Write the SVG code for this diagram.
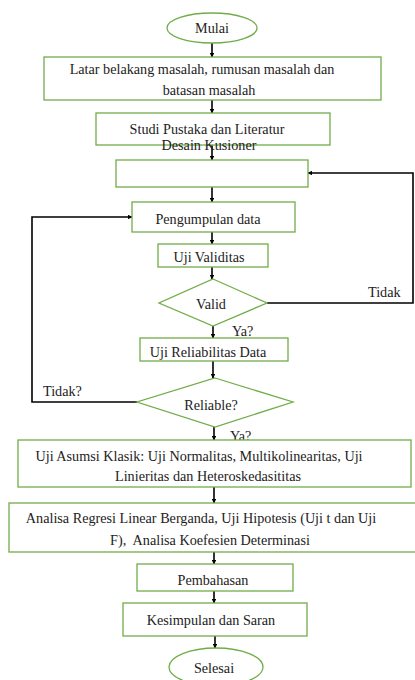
<svg xmlns="http://www.w3.org/2000/svg" width="415" height="680" viewBox="0 0 415 680">
<style>
.n{fill:#fff;stroke:#70ad47;stroke-width:1.3}
.t{font-family:"Liberation Serif","Times New Roman",serif;font-size:14.2px;fill:#222;text-anchor:middle}
.l{font-family:"Liberation Serif","Times New Roman",serif;font-size:14.2px;fill:#222}
.c{fill:none;stroke:#000;stroke-width:1.6}
</style>
<defs>
<marker id="a" viewBox="0 0 10 10" refX="9" refY="5" markerWidth="4.5" markerHeight="4.5" orient="auto" markerUnits="userSpaceOnUse">
<path d="M0,0L10,5L0,10z" fill="#000"/>
</marker>
</defs>
<rect width="415" height="680" fill="#fff"/>
<g id="connectors">
<path class="c" marker-end="url(#a)" d="M212,43V57"/>
<path class="c" marker-end="url(#a)" d="M212,100V113"/>
<path class="c" marker-end="url(#a)" d="M212,145V160"/>
<path class="c" marker-end="url(#a)" d="M212,187V202"/>
<path class="c" marker-end="url(#a)" d="M212,232V244"/>
<path class="c" marker-end="url(#a)" d="M212,267V279"/>
<path class="c" marker-end="url(#a)" d="M213,326V338"/>
<path class="c" marker-end="url(#a)" d="M213,361V378"/>
<path class="c" marker-end="url(#a)" d="M214,427V440"/>
<path class="c" marker-end="url(#a)" d="M214,487V503"/>
<path class="c" marker-end="url(#a)" d="M214,552V564"/>
<path class="c" marker-end="url(#a)" d="M214,591V603"/>
<path class="c" marker-end="url(#a)" d="M215,636V648"/>
<path class="c" marker-end="url(#a)" d="M267,303H413V173H308"/>
<path class="c" marker-end="url(#a)" d="M137,402H32V217H132"/>
<text class="l" x="368" y="297">Tidak</text>
<text class="l" x="232" y="336">Ya?</text>
<text class="l" x="43" y="396">Tidak?</text>
<text class="l" x="230" y="441">Ya?</text>
</g>
<g id="mulai"><ellipse class="n" cx="212" cy="28" rx="45" ry="15"/><text class="t" x="212" y="33">Mulai</text></g>
<g id="latar"><rect class="n" x="44" y="57" width="337" height="43"/><text class="t" x="202" y="74">Latar belakang masalah, rumusan masalah dan</text><text class="t" x="209" y="95">batasan masalah</text></g>
<g id="studi"><rect class="n" x="96" y="113" width="234" height="32"/><text class="t" x="207" y="134">Studi Pustaka dan Literatur</text></g>
<g id="desain"><rect class="n" x="116" y="160" width="192" height="27"/><text class="t" x="209" y="150">Desain Kusioner</text></g>
<g id="pengumpulan"><rect class="n" x="132" y="202" width="163" height="30"/><text class="t" x="208" y="224">Pengumpulan data</text></g>
<g id="validitas"><rect class="n" x="158" y="244" width="110" height="23"/><text class="t" x="209" y="262">Uji Validitas</text></g>
<g id="valid"><path class="n" d="M213,279L267,303L213,326L159,303z"/><text class="t" x="211" y="309">Valid</text></g>
<g id="reliabilitas"><rect class="n" x="140" y="338" width="148" height="23"/><text class="t" x="208" y="357">Uji Reliabilitas Data</text></g>
<g id="reliable"><path class="n" d="M215,378L293,402L215,427L137,402z"/><text class="t" x="211" y="410">Reliable?</text></g>
<g id="asumsi"><rect class="n" x="18" y="440" width="393" height="47"/><text class="t" x="199" y="461">Uji Asumsi Klasik: Uji Normalitas, Multikolinearitas, Uji</text><text class="t" x="208" y="481">Linieritas dan Heteroskedasititas</text></g>
<g id="analisa"><rect class="n" x="9" y="503" width="410" height="49"/><text class="t" x="201" y="523">Analisa Regresi Linear Berganda, Uji Hipotesis (Uji t dan Uji</text><text class="t" x="210" y="545" xml:space="preserve" style="white-space:pre">F),  Analisa Koefesien Determinasi</text></g>
<g id="pembahasan"><rect class="n" x="137" y="564" width="156" height="27"/><text class="t" x="213" y="585">Pembahasan</text></g>
<g id="kesimpulan"><rect class="n" x="123" y="603" width="184" height="33"/><text class="t" x="211" y="625">Kesimpulan dan Saran</text></g>
<g id="selesai"><ellipse class="n" cx="216" cy="667" rx="47" ry="19"/><text class="t" x="214" y="673">Selesai</text></g>
</svg>
